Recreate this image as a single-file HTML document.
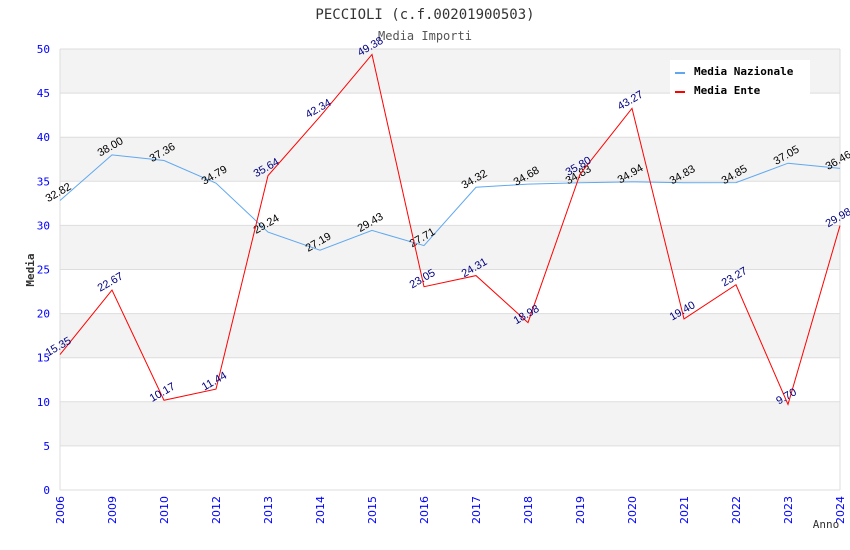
<!DOCTYPE html>
<html><head><meta charset="utf-8"><style>
body{margin:0;background:#fff}
svg{display:block}
</style></head><body>
<svg id="chart" width="850" height="550" xmlns="http://www.w3.org/2000/svg">
<text x="425" y="19" text-anchor="middle" font-family="DejaVu Sans Mono, Liberation Mono, monospace" font-size="14" fill="#333">PECCIOLI (c.f.00201900503)</text>
<text x="425" y="40" text-anchor="middle" font-family="DejaVu Sans Mono, Liberation Mono, monospace" font-size="12" fill="#555">Media Importi</text>
<g id="bands"></g><g id="yaxis"></g><g id="xaxis"></g><g id="series"></g>
<text x="34" y="270" transform="rotate(-90 34 270)" text-anchor="middle" font-family="DejaVu Sans Mono, monospace" font-size="11" font-weight="bold" fill="#333">Media</text>
<text x="826" y="528" text-anchor="middle" font-family="DejaVu Sans Mono, monospace" font-size="11" fill="#333">Anno</text>
<g>
<rect x="670" y="60" width="140" height="36" fill="#fff"/>
<rect x="675" y="72" width="10" height="2" fill="#5fa8f0"/>
<text x="694" y="75" font-family="DejaVu Sans Mono, monospace" font-size="11" font-weight="bold" fill="#000">Media Nazionale</text>
<rect x="675" y="91" width="10" height="2" fill="#f00"/>
<text x="694" y="94" font-family="DejaVu Sans Mono, monospace" font-size="11" font-weight="bold" fill="#000">Media Ente</text>
</g>
</svg>
<script>
const categories=["2006","2009","2010","2012","2013","2014","2015","2016","2017","2018","2019","2020","2021","2022","2023","2024"];
const nazionale=[32.82,38.00,37.36,34.79,29.24,27.19,29.43,27.71,34.32,34.68,34.83,34.94,34.83,34.85,37.05,36.46];
const ente=[15.35,22.67,10.17,11.44,35.64,42.34,49.38,23.05,24.31,18.98,35.80,43.27,19.40,23.27,9.70,29.98];
const yTicks=[0,5,10,15,20,25,30,35,40,45,50];
const NS="http://www.w3.org/2000/svg";
const L=60,R=840,T=49,B=490,YMAX=50;
const xs=i=>L+i*(R-L)/(categories.length-1);
const ys=v=>B-v/YMAX*(B-T);
function mk(tag,attrs,parent){const e=document.createElementNS(NS,tag);for(const k in attrs)e.setAttribute(k,attrs[k]);parent.appendChild(e);return e;}
const bands=document.getElementById('bands'),ya=document.getElementById('yaxis'),xa=document.getElementById('xaxis'),se=document.getElementById('series');
for(let i=0;i<yTicks.length-1;i++){
  const r=mk('rect',{x:L,y:ys(yTicks[i+1]),width:R-L,height:ys(yTicks[i])-ys(yTicks[i+1]),fill:(i%2===1)?'#f3f3f3':'#fff'},bands);
  
  
}
yTicks.forEach(v=>{
  const g=mk('line',{x1:L,x2:R,y1:ys(v),y2:ys(v),stroke:'#ddd','stroke-width':1},ya);
  
  
  const t=mk('text',{x:50,y:ys(v)+4,'text-anchor':'end','font-family':'DejaVu Sans Mono, monospace','font-size':11,fill:'#00f'},ya);
  t.textContent=v;
  
  
});
const lb=mk('line',{x1:L,x2:L,y1:T,y2:B,stroke:'#ddd'},ya);


const rb=mk('line',{x1:R,x2:R,y1:T,y2:B,stroke:'#ddd'},ya);


categories.forEach((c,i)=>{
  const x=xs(i);
  const t=mk('text',{x:x+4,y:496,transform:`rotate(-90 ${x+4} 496)`,'text-anchor':'end','font-family':'DejaVu Sans, sans-serif','font-size':11,fill:'#00f'},xa);
  t.textContent=c;
  
  
});
function series(data,color,labColor,name){
  const p=mk('polyline',{points:data.map((v,i)=>xs(i)+','+ys(v)).join(' '),fill:'none',stroke:color,'stroke-width':1},se);
  
  
  data.forEach((v,i)=>{
    const x=xs(i),y=ys(v)-5;
    const t=mk('text',{x:x,y:y,transform:`rotate(-30 ${x} ${y})`,'text-anchor':'middle','font-family':'Liberation Sans, sans-serif','font-size':11,fill:labColor},se);
    t.textContent=v.toFixed(2);
    
    
  });
}
series(nazionale,'#5fa8f0','#000','nazionale');
series(ente,'#f00','#000080','ente');
</script>
</body></html>
